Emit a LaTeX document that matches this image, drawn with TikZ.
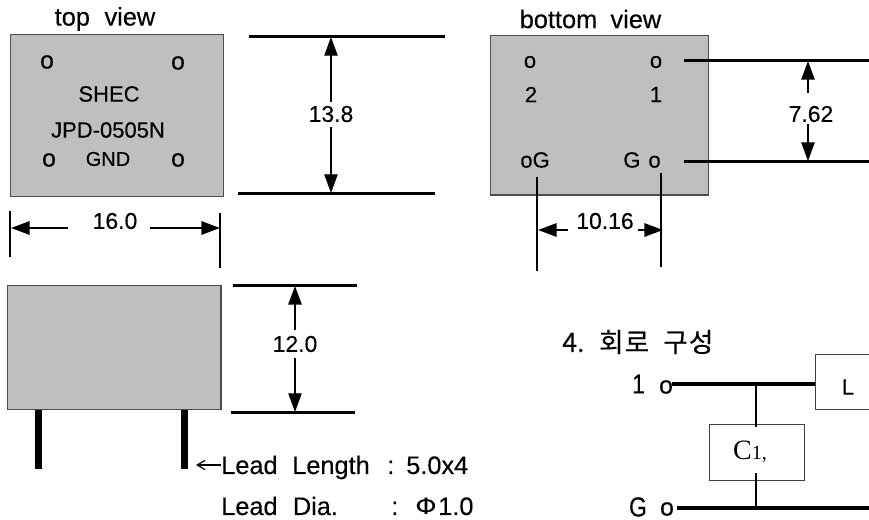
\documentclass[tikz,border=0pt]{standalone}
\usepackage{fontspec}
\setmainfont{Liberation Sans}[FakeBold=0.25]
\newfontfamily\krfont{Noto Sans CJK KR}[FakeBold=0.3]
\newfontfamily\dvfont{DejaVu Sans}
\newfontfamily\srfont{Liberation Serif}
\usetikzlibrary{arrows.meta}
\tikzset{
  x=0.75pt,y=-0.75pt,
  lbl/.style={inner sep=0pt,font=\fontsize{16.5pt}{18pt}\selectfont,text=black},
  dimlbl/.style={inner sep=0pt,font=\fontsize{17.2pt}{19pt}\selectfont,text=black},
  biglbl/.style={inner sep=0pt,font=\fontsize{19pt}{21pt}\selectfont,text=black},
  pinlbl/.style={inner sep=0pt,font=\fontsize{18.5pt}{20pt}\selectfont,text=black},
  part/.style={draw=black!70,line width=0.9pt,fill=black!25,inner sep=0pt,anchor=north west},
  cbox/.style={draw=black!75,line width=0.8pt,fill=white,inner sep=0pt,anchor=north west},
  ext/.style={draw=black,line width=1.7pt},
  dimln/.style={draw=black,line width=0.9pt,-{Triangle[length=14pt,width=10pt]}},
  dimthick/.style={draw=black,line width=1.5pt,-{Triangle[length=14pt,width=10pt]}},
  wire/.style={draw=black,line width=3pt},
  thinwire/.style={draw=black,line width=1.5pt},
  lead/.style={fill=black,draw=none,inner sep=0pt,anchor=north west,minimum width=5.3pt,minimum height=45pt}
}
\begin{document}
\begin{tikzpicture}
\useasboundingbox (0,0) rectangle (869,520);
\clip (0,0) rectangle (869,520);
% top view
\node[biglbl] (tt) at (105,19) {top\hspace{11pt}view};
\node[part,minimum width=160pt,minimum height=121.5pt] (topbox) at (9.5,34) {};
\node[pinlbl] (t1) at (47,62) {o};
\node[pinlbl] (t2) at (178,63) {o};
\node[lbl] (shec) at (109,94) {SHEC};
\node[lbl] (jpd) at (108,130) {JPD-0505N};
\node[pinlbl] (t3) at (49,160) {o};
\node[lbl,font=\fontsize{15pt}{17pt}\selectfont] (gnd) at (108,159) {GND};
\node[pinlbl] (t4) at (178,160) {o};
% 13.8
\coordinate (a1) at (249,36.5); \coordinate (a2) at (445,36.5);
\coordinate (a3) at (238,193.5); \coordinate (a4) at (435,193.5);
\draw[ext] (a1) -- (a2);
\draw[ext] (a3) -- (a4);
\node[dimlbl] (d138) at (331,114) {13.8};
\coordinate (a5) at (331,37); \coordinate (a6) at (331,193);
\draw[dimln] (d138.north) ++(0,-4) -- (a5);
\draw[dimln] (d138.south) ++(0,5) -- (a6);
% 16.0
\coordinate (b1) at (10,211); \coordinate (b2) at (10,257);
\coordinate (b3) at (220,213); \coordinate (b4) at (220,268);
\draw[ext] (b1) -- (b2);
\draw[ext] (b3) -- (b4);
\node[dimlbl] (d160) at (115,221) {16.0};
\coordinate (b5) at (11,228); \coordinate (b6) at (220,228);
\coordinate (b7) at (68,228); \coordinate (b8) at (150,228);
\draw[dimthick] (b7) -- (b5);
\draw[dimthick] (b8) -- (b6);
% bottom view
\node[biglbl] (bt) at (590.5,19) {bottom\hspace{10pt}view};
\node[part,minimum width=163.5pt,minimum height=119.5pt] (botbox) at (490,35) {};
\node[lbl] (p1) at (530,62) {o};
\node[lbl] (p2) at (656,62) {o};
\node[lbl] (p3) at (531,94.5) {2};
\node[lbl] (p4) at (656,94.5) {1};
\node[lbl] (p5) at (535,160) {oG};
\node[lbl] (p6) at (642,160) {G\hspace{6pt}o};
% 7.62
\coordinate (c1) at (684,60.5); \coordinate (c2) at (869,60.5);
\coordinate (c3) at (684,161.5); \coordinate (c4) at (869,161.5);
\draw[ext] (c1) -- (c2);
\draw[ext] (c3) -- (c4);
\node[dimlbl] (d762) at (811,114) {7.62};
\coordinate (c5) at (808,93); \coordinate (c6) at (808,61);
\coordinate (c7) at (808,124); \coordinate (c8) at (808,161);
\draw[dimthick] (c5) -- (c6);
\draw[dimln] (c7) -- (c8);
% 10.16
\coordinate (e1) at (537,177); \coordinate (e2) at (537,271);
\coordinate (e3) at (661,173); \coordinate (e4) at (661,267);
\draw[ext] (e1) -- (e2);
\draw[ext] (e3) -- (e4);
\node[dimlbl] (d1016) at (605,221) {10.16};
\coordinate (e5) at (568,230); \coordinate (e6) at (538,230);
\coordinate (e7) at (638,230); \coordinate (e8) at (663,230);
\draw[dimthick] (e5) -- (e6);
\draw[dimthick] (e7) -- (e8);
% side view
\node[lead] (l1) at (35,409) {};
\node[lead] (l2) at (181,409) {};
\node[part,minimum width=160pt,minimum height=93pt] (sidebox) at (7,285) {};
\coordinate (f1) at (233,285.5); \coordinate (f2) at (357,285.5);
\coordinate (f3) at (231,412.5); \coordinate (f4) at (355,412.5);
\draw[ext] (f1) -- (f2);
\draw[ext] (f3) -- (f4);
\node[dimlbl] (d120) at (295,344) {12.0};
\coordinate (f5) at (295,330); \coordinate (f6) at (295,286);
\coordinate (f7) at (295,358); \coordinate (f8) at (295,412);
\draw[dimthick] (f5) -- (f6);
\draw[dimln] (f7) -- (f8);
% lead notes
\node[biglbl,anchor=base west] (ll) at (221,474) {Lead\hspace{11pt}Length};
\node[biglbl,anchor=base west] (lc1) at (387,474) {:};
\node[biglbl,anchor=base west] (lv1) at (406,474) {5.0x4};
\node[biglbl,anchor=base west] (ld) at (221,515) {Lead\hspace{11.5pt}Dia.};
\node[biglbl,anchor=base west] (lc2) at (391,515) {:};
\node[biglbl,anchor=base west,font=\dvfont\fontsize{17pt}{19pt}\selectfont] (lv2) at (415,515) {\scalebox{1.2}[1]{Φ}};
\node[biglbl,anchor=base west] (lv3) at (438,515) {1.0};
\coordinate (g1) at (221,465); \coordinate (g2) at (196,465);
\draw[draw=black,line width=0.9pt,-{Straight Barb[length=6pt,width=7pt]}] (g1) -- (g2);
% circuit
\node[inner sep=0pt,anchor=base west,font=\krfont\fontsize{20pt}{22pt}\selectfont] (head) at (562,352) {4.\hspace{11pt}회\hspace{0.8pt}로\hspace{10.5pt}구\hspace{0.8pt}성};
\node[dimlbl] (n1) at (638.5,384) {\scalebox{1}[1.2]{1}};
\node[pinlbl] (no1) at (666,387) {o};
\node[dimlbl] (ng) at (638,507) {\scalebox{1}[1.2]{G}};
\node[pinlbl] (no2) at (667,509) {o};
\node[cbox,minimum width=50pt,minimum height=41.5pt] (Lb) at (815,354) {};
\node[lbl] (Lt) at (848,387) {L};
\node[cbox,minimum width=71pt,minimum height=42pt] (Cb) at (709,424) {};
\node[inner sep=0pt] (Ct) at (750,452) {\srfont\fontsize{21pt}{23pt}\selectfont C\fontsize{15pt}{17pt}\selectfont 1,};
\coordinate (h1) at (672,384);
\coordinate (h2) at (756,384);
\coordinate (h3) at (756,427);
\coordinate (h4) at (756,473);
\coordinate (h5) at (756,508);
\coordinate (h6) at (677,508);
\coordinate (h7) at (869,508);
\draw[wire] (h1) -- (Lb.west |- h1);
\draw[wire] (h6) -- (h7);
\draw[thinwire] (h2) -- (h3);
\draw[thinwire] (h4) -- (h5);
\end{tikzpicture}
\end{document}
